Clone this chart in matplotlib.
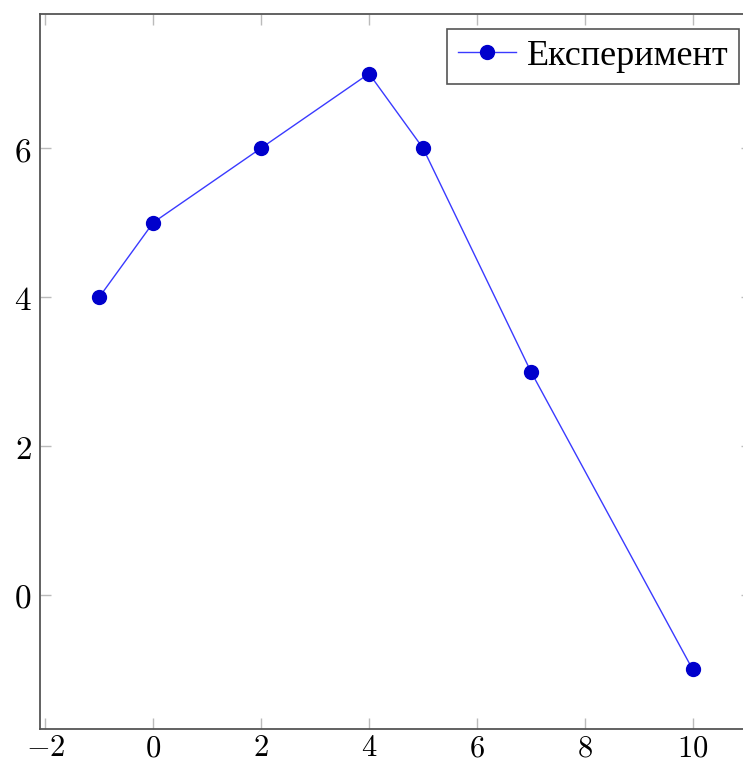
import matplotlib
matplotlib.use("Agg")
import matplotlib.pyplot as plt

x_vals = [-1, 0, 2, 4, 5, 7, 10]
y_vals = [4, 5, 6, 7, 6, 3, -1]
x_ticks = [-2, 0, 2, 4, 6, 8, 10]
y_ticks = [0, 2, 4, 6]
legend_label = "Експеримент"

plt.rcParams['mathtext.fontset'] = 'cm'

W, H = 743, 765
fig = plt.figure(figsize=(W / 100, H / 100), dpi=100)
left, right, top, bottom = 40, 752, 14, 729
ax = fig.add_axes([left / W, 1 - bottom / H, (right - left) / W, (bottom - top) / H])

ax.plot(x_vals, y_vals, color='#3a3aff', linewidth=1.0, marker='o',
        markersize=10, markerfacecolor='#0000cc', markeredgecolor='#0000cc',
        label=legend_label)

ax.set_xlim(-2.1, 11.1)
ax.set_ylim(-1.8, 7.8)
ax.set_xticks(x_ticks)
ax.set_xticklabels([f"${v}$" for v in x_ticks])
ax.set_yticks(y_ticks)
ax.set_yticklabels([f"${v}$" for v in y_ticks])
ax.tick_params(direction='in', length=8, width=1, color='#bbbbbb',
               top=True, right=True, labelsize=24)
ax.tick_params(axis='x', pad=3, labelsize=22)
ax.tick_params(axis='y', pad=6)
for s in ax.spines.values():
    s.set_color('#555555')
    s.set_linewidth(1.3)

leg = ax.legend(loc='upper right', bbox_to_anchor=(739 / W, 1 - 29 / H),
                bbox_transform=fig.transFigure, fancybox=False,
                edgecolor='#555555', framealpha=1, borderaxespad=0,
                prop={'family': 'Liberation Serif', 'size': 26},
                handlelength=1.6, handletextpad=0.3, borderpad=0.3,
                markerscale=1.0)
leg.get_frame().set_linewidth(1.2)

fig.savefig("out.png", dpi=100)
